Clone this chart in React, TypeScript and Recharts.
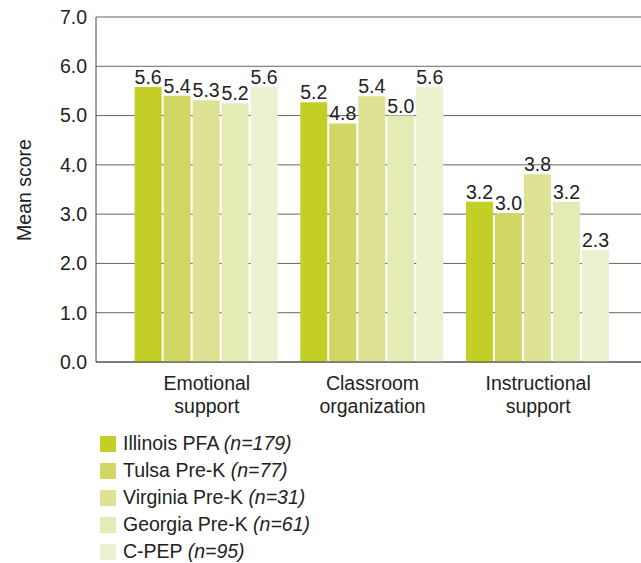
import React from "react";
import { BarChart, Bar, XAxis, YAxis, CartesianGrid, LabelList } from "recharts";

const categories = ["Emotional support", "Classroom organization", "Instructional support"];
const categoryLines = [["Emotional", "support"], ["Classroom", "organization"], ["Instructional", "support"]];

const illinois = [5.58, 5.27, 3.25];
const tulsa = [5.4, 4.84, 3.02];
const virginia = [5.31, 5.39, 3.81];
const georgia = [5.25, 5.0, 3.25];
const cpep = [5.58, 5.58, 2.27];

const illinoisLabels = ["5.6", "5.2", "3.2"];
const tulsaLabels = ["5.4", "4.8", "3.0"];
const virginiaLabels = ["5.3", "5.4", "3.8"];
const georgiaLabels = ["5.2", "5.0", "3.2"];
const cpepLabels = ["5.6", "5.6", "2.3"];

const yTicks = [0, 1, 2, 3, 4, 5, 6, 7];

const seriesNames = ["Illinois PFA", "Tulsa Pre-K", "Virginia Pre-K", "Georgia Pre-K", "C-PEP"];
const seriesN = ["(n=179)", "(n=77)", "(n=31)", "(n=61)", "(n=95)"];
const seriesKeys = ["illinois", "tulsa", "virginia", "georgia", "cpep"];
const seriesColors = ["#c3cf26", "#d0d765", "#dde294", "#e5ebb5", "#ecf1d0"];

const data = categories.map((c, i) => ({
  category: c,
  illinois: illinois[i],
  tulsa: tulsa[i],
  virginia: virginia[i],
  georgia: georgia[i],
  cpep: cpep[i],
  illinoisLabel: illinoisLabels[i],
  tulsaLabel: tulsaLabels[i],
  virginiaLabel: virginiaLabels[i],
  georgiaLabel: georgiaLabels[i],
  cpepLabel: cpepLabels[i],
}));

const FONT = "'Liberation Sans', Arial, Helvetica, sans-serif";
const TEXT = "#222";
const FS = 19.5;

const XTick = (props: any) => {
  const { x, y, payload } = props;
  const idx = categories.indexOf(payload.value);
  const lines = categoryLines[idx] || [payload.value];
  return (
    <text x={x} y={y} textAnchor="middle" fill={TEXT} fontSize={FS} fontFamily={FONT}>
      {lines.map((l, i) => (
        <tspan key={i} x={x} y={y + 20 + i * 23}>
          {l}
        </tspan>
      ))}
    </text>
  );
};

export default function App() {
  return (
    <div style={{ position: "absolute", left: 0, top: 0, width: 641, height: 563, background: "#fff", fontFamily: FONT }}>
      <BarChart
        width={641}
        height={422}
        data={data}
        margin={{ top: 17, right: 0, left: 0, bottom: 0 }}
        barCategoryGap="6.4%"
        barGap={2}
      >
        <CartesianGrid horizontal vertical={false} stroke="#666" strokeWidth={1} />
        <XAxis
          dataKey="category"
          tick={<XTick />}
          tickLine={false}
          axisLine={{ stroke: "#444", strokeWidth: 1 }}
          padding={{ left: 28, right: 20 }}
          height={60}
          interval={0}
        />
        <YAxis
          domain={[0, 7]}
          ticks={yTicks}
          tickFormatter={(v: number) => v.toFixed(1)}
          width={96}
          tickLine={false}
          tickMargin={3}
          axisLine={{ stroke: "#444", strokeWidth: 1 }}
          tick={{ fill: TEXT, fontSize: FS, fontFamily: FONT }}
          interval={0}
        />
        {seriesKeys.map((k, i) => (
          <Bar key={k} dataKey={k} fill={seriesColors[i]} isAnimationActive={false}>
            <LabelList
              dataKey={k + "Label"}
              position="top"
              offset={3}
              fill={TEXT}
              fontSize={FS}
              fontFamily={FONT}
            />
          </Bar>
        ))}
        <text
          x={24}
          y={190}
          transform="rotate(-90 24 190)"
          textAnchor="middle"
          dominantBaseline="central"
          fill={TEXT}
          fontSize={FS}
          fontFamily={FONT}
        >
          Mean score
        </text>
      </BarChart>
      <div style={{ position: "absolute", left: 100, top: 430 }}>
        {seriesNames.map((n, i) => (
          <div key={n} style={{ display: "flex", alignItems: "center", height: 27 }}>
            <div style={{ width: 16, height: 16, background: seriesColors[i], marginRight: 7 }} />
            <span style={{ fontSize: FS, color: TEXT, whiteSpace: "nowrap" }}>
              {n} <i>{seriesN[i]}</i>
            </span>
          </div>
        ))}
      </div>
    </div>
  );
}
